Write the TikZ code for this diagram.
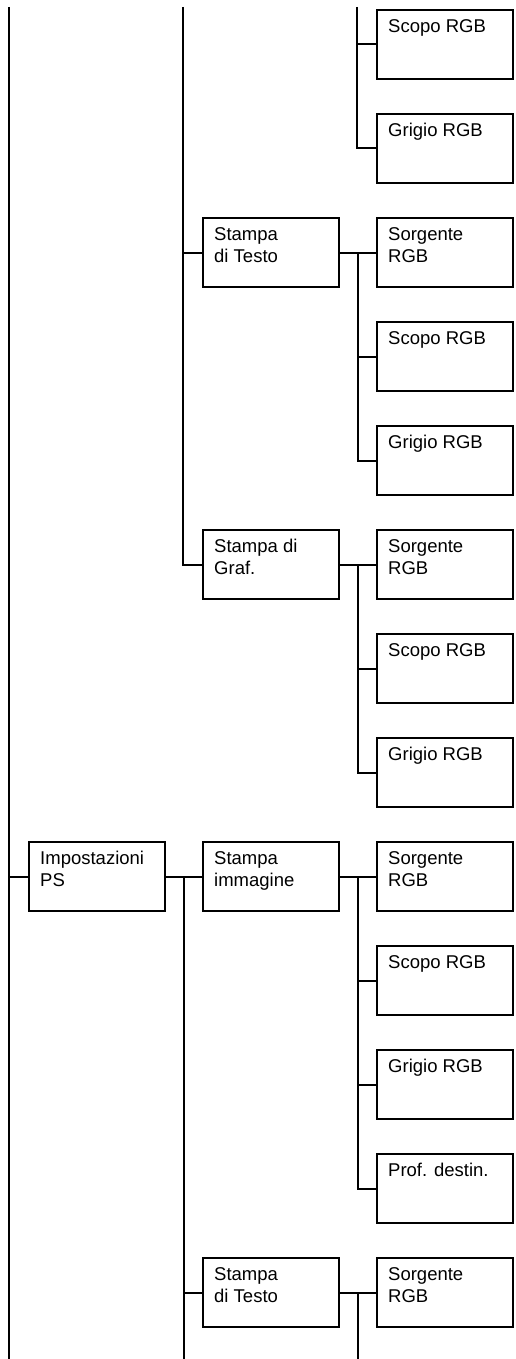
\documentclass[tikz,border=0pt]{standalone}
\usepackage{fontspec}
\setmainfont{Liberation Sans}
\usetikzlibrary{calc}

\tikzset{
  menubox/.style={draw, line width=2pt, minimum width=136pt, minimum height=69pt, inner sep=0pt, anchor=north west},
  menutext/.style={anchor=north west, inner sep=0pt, align=left, font=\fontsize{18.5}{22}\selectfont},
  link/.style={line width=2pt}
}

\begin{document}
\begin{tikzpicture}[x=1pt, y=-1pt]
    \useasboundingbox (0,0) rectangle (515,1359);

    % Boxes carried over from the previous page
    \node[menubox] (scopoA) at (376,9) {};
    \node[menutext] (scopoAt) at ($(scopoA.north west)+(12,10)$) {Scopo RGB};
    \node[menubox] (grigioA) at (376,113) {};
    \node[menutext] (grigioAt) at ($(grigioA.north west)+(12,10)$) {Grigio RGB};

    % Stampa di Testo
    \node[menubox] (testoB) at (202,217) {};
    \node[menutext] (testoBt) at ($(testoB.north west)+(12,10)$) {Stampa\\di Testo};
    \node[menubox] (sorgB) at (376,217) {};
    \node[menutext] (sorgBt) at ($(sorgB.north west)+(12,10)$) {Sorgente\\RGB};
    \node[menubox] (scopoB) at (376,321) {};
    \node[menutext] (scopoBt) at ($(scopoB.north west)+(12,10)$) {Scopo RGB};
    \node[menubox] (grigioB) at (376,425) {};
    \node[menutext] (grigioBt) at ($(grigioB.north west)+(12,10)$) {Grigio RGB};

    % Stampa di Graf.
    \node[menubox] (grafC) at (202,529) {};
    \node[menutext] (grafCt) at ($(grafC.north west)+(12,10)$) {Stampa di\\Graf.};
    \node[menubox] (sorgC) at (376,529) {};
    \node[menutext] (sorgCt) at ($(sorgC.north west)+(12,10)$) {Sorgente\\RGB};
    \node[menubox] (scopoC) at (376,633) {};
    \node[menutext] (scopoCt) at ($(scopoC.north west)+(12,10)$) {Scopo RGB};
    \node[menubox] (grigioC) at (376,737) {};
    \node[menutext] (grigioCt) at ($(grigioC.north west)+(12,10)$) {Grigio RGB};

    % Impostazioni PS
    \node[menubox] (ps) at (28,841) {};
    \node[menutext] (pst) at ($(ps.north west)+(12,10)$) {Impostazioni\\PS};
    \node[menubox] (immD) at (202,841) {};
    \node[menutext] (immDt) at ($(immD.north west)+(12,10)$) {Stampa\\immagine};
    \node[menubox] (sorgD) at (376,841) {};
    \node[menutext] (sorgDt) at ($(sorgD.north west)+(12,10)$) {Sorgente\\RGB};
    \node[menubox] (scopoD) at (376,945) {};
    \node[menutext] (scopoDt) at ($(scopoD.north west)+(12,10)$) {Scopo RGB};
    \node[menubox] (grigioD) at (376,1049) {};
    \node[menutext] (grigioDt) at ($(grigioD.north west)+(12,10)$) {Grigio RGB};
    \node[menubox] (profD) at (376,1153) {};
    \node[menutext] (profDt) at ($(profD.north west)+(12,10)$) {Prof. destin.};

    % Stampa di Testo (PS)
    \node[menubox] (testoE) at (202,1257) {};
    \node[menutext] (testoEt) at ($(testoE.north west)+(12,10)$) {Stampa\\di Testo};
    \node[menubox] (sorgE) at (376,1257) {};
    \node[menutext] (sorgEt) at ($(sorgE.north west)+(12,10)$) {Sorgente\\RGB};

    % Main trunk
    \coordinate (trunkTop) at (9,7);
    \coordinate (trunkBot) at (9,1359);
    \draw[link] (trunkTop) -- (trunkBot);
    \draw[link] (ps.west -| trunkTop) -- (ps.west);

    % Second level buses
    \coordinate (busTop) at (183,7);
    \draw[link] (busTop) |- (grafC.west);
    \draw[link] (testoB.west -| busTop) -- (testoB.west);

    \draw[link] (ps.east) -- (immD.west);
    \coordinate (busMid) at ($(ps.east)!0.5!(immD.west)$);
    \coordinate (busBot) at (busMid |- trunkBot);
    \draw[link] (busMid) -- (busBot);
    \draw[link] (testoE.west -| busMid) -- (testoE.west);

    % Third level buses
    \coordinate (hubA) at (357,7);
    \draw[link] (hubA) |- (grigioA.west);
    \draw[link] (scopoA.west -| hubA) -- (scopoA.west);

    \draw[link] (testoB.east) -- (sorgB.west);
    \coordinate (hubB) at ($(testoB.east)!0.5!(sorgB.west)$);
    \draw[link] (hubB) |- (grigioB.west);
    \draw[link] (scopoB.west -| hubB) -- (scopoB.west);

    \draw[link] (grafC.east) -- (sorgC.west);
    \coordinate (hubC) at ($(grafC.east)!0.5!(sorgC.west)$);
    \draw[link] (hubC) |- (grigioC.west);
    \draw[link] (scopoC.west -| hubC) -- (scopoC.west);

    \draw[link] (immD.east) -- (sorgD.west);
    \coordinate (hubD) at ($(immD.east)!0.5!(sorgD.west)$);
    \draw[link] (hubD) |- (profD.west);
    \draw[link] (scopoD.west -| hubD) -- (scopoD.west);
    \draw[link] (grigioD.west -| hubD) -- (grigioD.west);

    \draw[link] (testoE.east) -- (sorgE.west);
    \coordinate (hubE) at ($(testoE.east)!0.5!(sorgE.west)$);
    \draw[link] (hubE) -- (hubE |- trunkBot);
\end{tikzpicture}
\end{document}
